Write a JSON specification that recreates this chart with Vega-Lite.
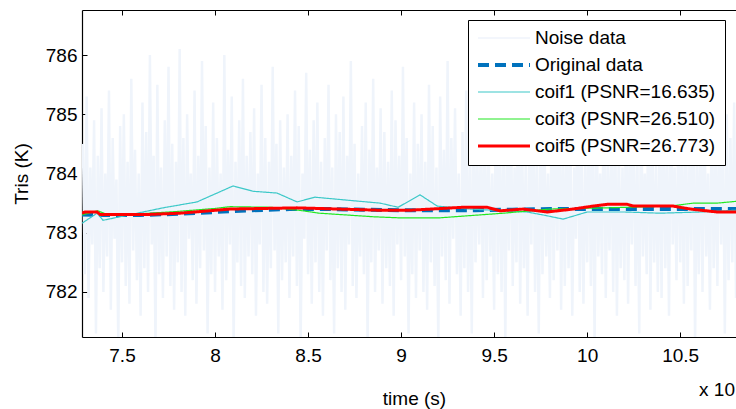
{
  "$schema": "https://vega.github.io/schema/vega-lite/v6.json",
  "width": 654,
  "height": 327,
  "autosize": "none",
  "padding": {"left": 82, "top": 10, "right": 0, "bottom": 72},
  "background": "white",
  "title": {"text": "x 10", "orient": "bottom", "anchor": "end", "frame": "group", "offset": -27, "dx": -1, "fontSize": 19, "fontWeight": "normal", "font": "Liberation Sans", "color": "black"},
  "config": {
    "font": "Liberation Sans",
    "view": {"stroke": null},
    "axis": {"domainColor": "black", "domainWidth": 1.2, "tickColor": "black", "tickWidth": 1, "tickSize": -5, "grid": false, "labelFont": "Liberation Sans", "labelFontSize": 19, "labelColor": "black", "titleFont": "Liberation Sans", "titleFontSize": 19, "titleFontWeight": "normal", "titleColor": "black"},
    "legend": {"orient": "none", "legendX": 386, "legendY": 10, "padding": 9, "clipHeight": 18, "rowPadding": 8, "labelOffset": 4, "symbolType": "stroke", "symbolSize": 2704, "strokeColor": "black", "fillColor": "white", "labelFont": "Liberation Sans", "labelFontSize": 19, "labelColor": "black", "labelLimit": 400}
  },
  "datasets": {
    "noise": [
      {"t":7.29,"v":784.5},{"t":7.30,"v":782.3},{"t":7.31,"v":785.3},{"t":7.32,"v":781.9},{"t":7.33,"v":784.1},{"t":7.34,"v":782.8},{"t":7.35,"v":784.9},{"t":7.36,"v":781.3},{"t":7.37,"v":784.3},{"t":7.38,"v":782.4},
      {"t":7.39,"v":785.1},{"t":7.40,"v":782.0},{"t":7.41,"v":784.0},{"t":7.42,"v":782.6},{"t":7.43,"v":785.4},{"t":7.44,"v":781.7},{"t":7.45,"v":784.6},{"t":7.46,"v":782.9},{"t":7.47,"v":783.9},{"t":7.48,"v":781.1},
      {"t":7.49,"v":784.8},{"t":7.50,"v":782.5},{"t":7.51,"v":785.0},{"t":7.52,"v":782.1},{"t":7.53,"v":784.2},{"t":7.54,"v":781.8},{"t":7.55,"v":785.6},{"t":7.56,"v":782.7},{"t":7.57,"v":784.4},{"t":7.58,"v":782.2},
      {"t":7.59,"v":784.0},{"t":7.60,"v":781.6},{"t":7.61,"v":785.2},{"t":7.62,"v":782.4},{"t":7.63,"v":784.7},{"t":7.64,"v":782.0},{"t":7.65,"v":786.0},{"t":7.66,"v":782.8},{"t":7.67,"v":784.3},{"t":7.68,"v":781.1},
      {"t":7.69,"v":785.5},{"t":7.70,"v":782.3},{"t":7.71,"v":784.1},{"t":7.72,"v":781.9},{"t":7.73,"v":784.9},{"t":7.74,"v":782.6},{"t":7.75,"v":785.8},{"t":7.76,"v":782.1},{"t":7.77,"v":784.5},{"t":7.78,"v":781.7},
      {"t":7.79,"v":784.2},{"t":7.80,"v":782.5},{"t":7.81,"v":786.1},{"t":7.82,"v":782.0},{"t":7.83,"v":784.6},{"t":7.84,"v":781.6},{"t":7.85,"v":785.0},{"t":7.86,"v":782.9},{"t":7.87,"v":784.0},{"t":7.88,"v":782.2},
      {"t":7.89,"v":785.4},{"t":7.90,"v":781.8},{"t":7.91,"v":784.3},{"t":7.92,"v":782.4},{"t":7.93,"v":785.9},{"t":7.94,"v":782.7},{"t":7.95,"v":784.8},{"t":7.96,"v":781.3},{"t":7.97,"v":784.1},{"t":7.98,"v":782.3},
      {"t":7.99,"v":785.2},{"t":8.00,"v":782.0},{"t":8.01,"v":784.6},{"t":8.02,"v":782.6},{"t":8.03,"v":784.0},{"t":8.04,"v":781.7},{"t":8.05,"v":786.0},{"t":8.06,"v":782.2},{"t":8.07,"v":784.4},{"t":8.08,"v":782.8},
      {"t":8.09,"v":785.3},{"t":8.10,"v":781.1},{"t":8.11,"v":784.2},{"t":8.12,"v":782.5},{"t":8.13,"v":784.9},{"t":8.14,"v":782.1},{"t":8.15,"v":785.6},{"t":8.16,"v":781.9},{"t":8.17,"v":784.3},{"t":8.18,"v":782.6},
      {"t":8.19,"v":784.7},{"t":8.20,"v":782.3},{"t":8.21,"v":785.1},{"t":8.22,"v":781.6},{"t":8.23,"v":784.0},{"t":8.24,"v":782.8},{"t":8.25,"v":785.5},{"t":8.26,"v":782.0},{"t":8.27,"v":784.6},{"t":8.28,"v":781.8},
      {"t":8.29,"v":784.2},{"t":8.30,"v":782.4},{"t":8.31,"v":785.8},{"t":8.32,"v":782.7},{"t":8.33,"v":784.5},{"t":8.34,"v":781.3},{"t":8.35,"v":784.9},{"t":8.36,"v":782.2},{"t":8.37,"v":784.1},{"t":8.38,"v":782.5},
      {"t":8.39,"v":785.0},{"t":8.40,"v":781.9},{"t":8.41,"v":784.3},{"t":8.42,"v":782.6},{"t":8.43,"v":785.4},{"t":8.44,"v":782.1},{"t":8.45,"v":784.8},{"t":8.46,"v":781.1},{"t":8.47,"v":784.0},{"t":8.48,"v":782.9},
      {"t":8.49,"v":785.7},{"t":8.50,"v":782.3},{"t":8.51,"v":784.4},{"t":8.52,"v":781.8},{"t":8.53,"v":784.9},{"t":8.54,"v":782.5},{"t":8.55,"v":785.2},{"t":8.56,"v":782.0},{"t":8.57,"v":784.2},{"t":8.58,"v":781.6},
      {"t":8.59,"v":784.6},{"t":8.60,"v":782.7},{"t":8.61,"v":785.5},{"t":8.62,"v":782.2},{"t":8.63,"v":784.1},{"t":8.64,"v":781.3},{"t":8.65,"v":785.0},{"t":8.66,"v":782.4},{"t":8.67,"v":784.7},{"t":8.68,"v":782.0},
      {"t":8.69,"v":785.3},{"t":8.70,"v":781.7},{"t":8.71,"v":784.3},{"t":8.72,"v":782.8},{"t":8.73,"v":785.9},{"t":8.74,"v":782.1},{"t":8.75,"v":784.5},{"t":8.76,"v":781.9},{"t":8.77,"v":784.0},{"t":8.78,"v":782.6},
      {"t":8.79,"v":784.8},{"t":8.80,"v":782.3},{"t":8.81,"v":785.2},{"t":8.82,"v":781.1},{"t":8.83,"v":784.4},{"t":8.84,"v":782.5},{"t":8.85,"v":785.6},{"t":8.86,"v":782.0},{"t":8.87,"v":784.1},{"t":8.88,"v":782.7},
      {"t":8.89,"v":785.1},{"t":8.90,"v":781.8},{"t":8.91,"v":784.7},{"t":8.92,"v":782.4},{"t":8.93,"v":784.2},{"t":8.94,"v":782.1},{"t":8.95,"v":785.4},{"t":8.96,"v":781.6},{"t":8.97,"v":784.9},{"t":8.98,"v":782.8},
      {"t":8.99,"v":784.3},{"t":9.00,"v":782.2},{"t":9.01,"v":785.8},{"t":9.02,"v":782.6},{"t":9.03,"v":784.6},{"t":9.04,"v":781.3},{"t":9.05,"v":784.0},{"t":9.06,"v":782.3},{"t":9.07,"v":785.2},{"t":9.08,"v":781.9},
      {"t":9.09,"v":784.5},{"t":9.10,"v":782.7},{"t":9.11,"v":785.0},{"t":9.12,"v":782.0},{"t":9.13,"v":784.2},{"t":9.14,"v":781.7},{"t":9.15,"v":785.5},{"t":9.16,"v":782.5},{"t":9.17,"v":784.8},{"t":9.18,"v":782.1},
      {"t":9.19,"v":784.1},{"t":9.20,"v":781.1},{"t":9.21,"v":785.3},{"t":9.22,"v":782.6},{"t":9.23,"v":784.4},{"t":9.24,"v":782.2},{"t":9.25,"v":785.9},{"t":9.26,"v":781.8},{"t":9.27,"v":784.6},{"t":9.28,"v":782.9},
      {"t":9.29,"v":785.1},{"t":9.30,"v":782.3},{"t":9.31,"v":784.0},{"t":9.32,"v":781.6},{"t":9.33,"v":784.7},{"t":9.34,"v":782.4},{"t":9.35,"v":785.4},{"t":9.36,"v":782.0},{"t":9.37,"v":784.3},{"t":9.38,"v":781.3},
      {"t":9.39,"v":785.6},{"t":9.40,"v":782.5},{"t":9.41,"v":784.2},{"t":9.42,"v":782.8},{"t":9.43,"v":784.9},{"t":9.44,"v":781.9},{"t":9.45,"v":785.0},{"t":9.46,"v":782.2},{"t":9.47,"v":784.5},{"t":9.48,"v":782.6},
      {"t":9.49,"v":784.0},{"t":9.50,"v":781.7},{"t":9.51,"v":785.7},{"t":9.52,"v":782.3},{"t":9.53,"v":784.4},{"t":9.54,"v":782.0},{"t":9.55,"v":785.2},{"t":9.56,"v":781.1},{"t":9.57,"v":784.8},{"t":9.58,"v":782.7},
      {"t":9.59,"v":785.3},{"t":9.60,"v":782.1},{"t":9.61,"v":784.1},{"t":9.62,"v":782.5},{"t":9.63,"v":785.8},{"t":9.64,"v":781.8},{"t":9.65,"v":784.6},{"t":9.66,"v":782.4},{"t":9.67,"v":784.2},{"t":9.68,"v":781.6},
      {"t":9.69,"v":784.9},{"t":9.70,"v":782.8},{"t":9.71,"v":785.5},{"t":9.72,"v":782.0},{"t":9.73,"v":784.3},{"t":9.74,"v":781.3},{"t":9.75,"v":785.1},{"t":9.76,"v":782.3},{"t":9.77,"v":784.7},{"t":9.78,"v":782.6},
      {"t":9.79,"v":784.0},{"t":9.80,"v":781.9},{"t":9.81,"v":785.4},{"t":9.82,"v":782.2},{"t":9.83,"v":784.8},{"t":9.84,"v":782.7},{"t":9.85,"v":785.9},{"t":9.86,"v":781.7},{"t":9.87,"v":784.4},{"t":9.88,"v":782.1},
      {"t":9.89,"v":785.2},{"t":9.90,"v":782.4},{"t":9.91,"v":784.5},{"t":9.92,"v":781.6},{"t":9.93,"v":784.1},{"t":9.94,"v":782.9},{"t":9.95,"v":785.6},{"t":9.96,"v":782.0},{"t":9.97,"v":784.6},{"t":9.98,"v":781.8},
      {"t":9.99,"v":784.3},{"t":10.00,"v":782.5},{"t":10.01,"v":785.0},{"t":10.02,"v":782.1},{"t":10.03,"v":784.9},{"t":10.04,"v":781.1},{"t":10.05,"v":785.3},{"t":10.06,"v":782.6},{"t":10.07,"v":784.0},{"t":10.08,"v":782.3},
      {"t":10.09,"v":785.7},{"t":10.10,"v":781.9},{"t":10.11,"v":784.2},{"t":10.12,"v":782.7},{"t":10.13,"v":784.8},{"t":10.14,"v":782.0},{"t":10.15,"v":785.1},{"t":10.16,"v":781.6},{"t":10.17,"v":784.5},{"t":10.18,"v":782.4},
      {"t":10.19,"v":784.1},{"t":10.20,"v":782.2},{"t":10.21,"v":785.5},{"t":10.22,"v":781.8},{"t":10.23,"v":784.6},{"t":10.24,"v":782.8},{"t":10.25,"v":785.0},{"t":10.26,"v":782.1},{"t":10.27,"v":784.3},{"t":10.28,"v":781.3},
      {"t":10.29,"v":785.4},{"t":10.30,"v":782.6},{"t":10.31,"v":784.0},{"t":10.32,"v":782.3},{"t":10.33,"v":785.8},{"t":10.34,"v":781.7},{"t":10.35,"v":784.7},{"t":10.36,"v":782.5},{"t":10.37,"v":784.2},{"t":10.38,"v":782.0},
      {"t":10.39,"v":784.9},{"t":10.40,"v":781.9},{"t":10.41,"v":785.2},{"t":10.42,"v":782.4},{"t":10.43,"v":784.4},{"t":10.44,"v":781.6},{"t":10.45,"v":785.6},{"t":10.46,"v":782.8},{"t":10.47,"v":784.1},{"t":10.48,"v":782.2},
      {"t":10.49,"v":785.0},{"t":10.50,"v":782.5},{"t":10.51,"v":784.6},{"t":10.52,"v":781.8},{"t":10.53,"v":785.3},{"t":10.54,"v":782.1},{"t":10.55,"v":784.2},{"t":10.56,"v":782.7},{"t":10.57,"v":785.7},{"t":10.58,"v":781.1},
      {"t":10.59,"v":784.5},{"t":10.60,"v":782.3},{"t":10.61,"v":784.9},{"t":10.62,"v":782.0},{"t":10.63,"v":785.1},{"t":10.64,"v":782.6},{"t":10.65,"v":784.0},{"t":10.66,"v":781.7},{"t":10.67,"v":785.4},{"t":10.68,"v":782.4},
      {"t":10.69,"v":784.3},{"t":10.70,"v":782.1},{"t":10.71,"v":785.6},{"t":10.72,"v":782.8},{"t":10.73,"v":784.7},{"t":10.74,"v":781.3},{"t":10.75,"v":785.0},{"t":10.76,"v":782.2},{"t":10.77,"v":784.6},{"t":10.78,"v":782.5},
      {"t":10.79,"v":785.2},{"t":10.80,"v":781.9}
    ],
    "smooth": [
      {"series":"Original data","t":7.285,"v":783.31},{"series":"Original data","t":7.4,"v":783.30},{"series":"Original data","t":7.6,"v":783.30},{"series":"Original data","t":7.8,"v":783.32},{"series":"Original data","t":8.0,"v":783.35},{"series":"Original data","t":8.2,"v":783.38},{"series":"Original data","t":8.4,"v":783.40},{"series":"Original data","t":8.6,"v":783.40},{"series":"Original data","t":8.8,"v":783.39},{"series":"Original data","t":9.0,"v":783.38},{"series":"Original data","t":9.2,"v":783.38},{"series":"Original data","t":9.4,"v":783.38},{"series":"Original data","t":9.6,"v":783.39},{"series":"Original data","t":9.8,"v":783.40},{"series":"Original data","t":10.0,"v":783.40},{"series":"Original data","t":10.2,"v":783.40},{"series":"Original data","t":10.4,"v":783.40},{"series":"Original data","t":10.6,"v":783.40},{"series":"Original data","t":10.8,"v":783.40},
      {"series":"coif1 (PSNR=16.635)","t":7.285,"v":783.16},{"series":"coif1 (PSNR=16.635)","t":7.366,"v":783.33},{"series":"coif1 (PSNR=16.635)","t":7.398,"v":783.21},{"series":"coif1 (PSNR=16.635)","t":7.72,"v":783.42},{"series":"coif1 (PSNR=16.635)","t":7.903,"v":783.52},{"series":"coif1 (PSNR=16.635)","t":8.097,"v":783.79},{"series":"coif1 (PSNR=16.635)","t":8.204,"v":783.70},{"series":"coif1 (PSNR=16.635)","t":8.333,"v":783.67},{"series":"coif1 (PSNR=16.635)","t":8.441,"v":783.52},{"series":"coif1 (PSNR=16.635)","t":8.537,"v":783.60},{"series":"coif1 (PSNR=16.635)","t":8.71,"v":783.55},{"series":"coif1 (PSNR=16.635)","t":8.887,"v":783.50},{"series":"coif1 (PSNR=16.635)","t":8.984,"v":783.43},{"series":"coif1 (PSNR=16.635)","t":9.102,"v":783.64},{"series":"coif1 (PSNR=16.635)","t":9.194,"v":783.45},{"series":"coif1 (PSNR=16.635)","t":9.371,"v":783.40},{"series":"coif1 (PSNR=16.635)","t":9.677,"v":783.35},{"series":"coif1 (PSNR=16.635)","t":9.763,"v":783.30},{"series":"coif1 (PSNR=16.635)","t":9.871,"v":783.23},{"series":"coif1 (PSNR=16.635)","t":10.0,"v":783.35},{"series":"coif1 (PSNR=16.635)","t":10.204,"v":783.35},{"series":"coif1 (PSNR=16.635)","t":10.392,"v":783.33},{"series":"coif1 (PSNR=16.635)","t":10.607,"v":783.35},{"series":"coif1 (PSNR=16.635)","t":10.8,"v":783.38},
      {"series":"coif3 (PSNR=26.510)","t":7.285,"v":783.30},{"series":"coif3 (PSNR=26.510)","t":7.37,"v":783.37},{"series":"coif3 (PSNR=26.510)","t":7.42,"v":783.31},{"series":"coif3 (PSNR=26.510)","t":7.6,"v":783.32},{"series":"coif3 (PSNR=26.510)","t":7.8,"v":783.36},{"series":"coif3 (PSNR=26.510)","t":8.0,"v":783.41},{"series":"coif3 (PSNR=26.510)","t":8.08,"v":783.44},{"series":"coif3 (PSNR=26.510)","t":8.3,"v":783.43},{"series":"coif3 (PSNR=26.510)","t":8.45,"v":783.38},{"series":"coif3 (PSNR=26.510)","t":8.56,"v":783.33},{"series":"coif3 (PSNR=26.510)","t":8.85,"v":783.27},{"series":"coif3 (PSNR=26.510)","t":9.0,"v":783.25},{"series":"coif3 (PSNR=26.510)","t":9.2,"v":783.25},{"series":"coif3 (PSNR=26.510)","t":9.55,"v":783.33},{"series":"coif3 (PSNR=26.510)","t":9.8,"v":783.40},{"series":"coif3 (PSNR=26.510)","t":10.1,"v":783.42},{"series":"coif3 (PSNR=26.510)","t":10.45,"v":783.45},{"series":"coif3 (PSNR=26.510)","t":10.57,"v":783.50},{"series":"coif3 (PSNR=26.510)","t":10.7,"v":783.50},{"series":"coif3 (PSNR=26.510)","t":10.8,"v":783.53},
      {"series":"coif5 (PSNR=26.773)","t":7.285,"v":783.33},{"series":"coif5 (PSNR=26.773)","t":7.30,"v":783.35},{"series":"coif5 (PSNR=26.773)","t":7.366,"v":783.35},{"series":"coif5 (PSNR=26.773)","t":7.382,"v":783.31},{"series":"coif5 (PSNR=26.773)","t":7.651,"v":783.31},{"series":"coif5 (PSNR=26.773)","t":7.812,"v":783.33},{"series":"coif5 (PSNR=26.773)","t":8.081,"v":783.40},{"series":"coif5 (PSNR=26.773)","t":8.441,"v":783.42},{"series":"coif5 (PSNR=26.773)","t":8.887,"v":783.38},{"series":"coif5 (PSNR=26.773)","t":9.048,"v":783.38},{"series":"coif5 (PSNR=26.773)","t":9.333,"v":783.43},{"series":"coif5 (PSNR=26.773)","t":9.462,"v":783.43},{"series":"coif5 (PSNR=26.773)","t":9.532,"v":783.37},{"series":"coif5 (PSNR=26.773)","t":9.656,"v":783.40},{"series":"coif5 (PSNR=26.773)","t":9.785,"v":783.35},{"series":"coif5 (PSNR=26.773)","t":9.925,"v":783.40},{"series":"coif5 (PSNR=26.773)","t":10.032,"v":783.45},{"series":"coif5 (PSNR=26.773)","t":10.108,"v":783.48},{"series":"coif5 (PSNR=26.773)","t":10.215,"v":783.48},{"series":"coif5 (PSNR=26.773)","t":10.247,"v":783.45},{"series":"coif5 (PSNR=26.773)","t":10.462,"v":783.45},{"series":"coif5 (PSNR=26.773)","t":10.554,"v":783.40},{"series":"coif5 (PSNR=26.773)","t":10.699,"v":783.35},{"series":"coif5 (PSNR=26.773)","t":10.8,"v":783.35}
    ]
  },
  "resolve": {"axis": {"x": "independent"}},
  "encoding": {
    "x": {"field": "t", "type": "quantitative", "scale": {"domain": [7.285, 10.8], "nice": false, "zero": false}, "axis": null},
    "y": {"field": "v", "type": "quantitative", "scale": {"domain": [781.24, 786.76], "nice": false, "zero": false},
          "axis": {"orient": "left", "values": [782, 783, 784, 785, 786], "format": "d", "labelPadding": 10, "title": "Tris (K)", "titlePadding": 14}},
    "color": {"field": "series", "type": "nominal",
              "scale": {"domain": ["Noise data", "Original data", "coif1 (PSNR=16.635)", "coif3 (PSNR=26.510)", "coif5 (PSNR=26.773)"], "range": ["#eff4fb", "#0072bd", "#3cc8c8", "#22e822", "#ff0000"]},
              "legend": {"title": null, "encode": {"symbols": {"update": {"strokeWidth": {"signal": "(datum.value == 'Original data' ? 4 : datum.value == 'coif5 (PSNR=26.773)' ? 3 : datum.value == 'Noise data' ? 1.5 : 1.2)"}}}}}},
    "strokeDash": {"field": "series", "type": "nominal",
              "scale": {"domain": ["Noise data", "Original data", "coif1 (PSNR=16.635)", "coif3 (PSNR=26.510)", "coif5 (PSNR=26.773)"], "range": [[1, 0], [11, 6], [1, 0], [1, 0], [1, 0]]},
              "legend": {"title": null}}
  },
  "layer": [
    {
      "data": {"name": "noise"},
      "mark": {"type": "line", "clip": true, "strokeWidth": 2.5},
      "encoding": {
        "x": {"field": "t", "type": "quantitative", "scale": {"domain": [7.285, 10.8], "nice": false, "zero": false},
              "axis": {"orient": "bottom", "values": [7.5, 8, 8.5, 9, 9.5, 10, 10.5], "format": "~g", "labelPadding": 14, "title": "time (s)", "titlePadding": 24, "titleX": 332}},
        "color": {"datum": "Noise data", "type": "nominal",
                  "scale": {"domain": ["Noise data", "Original data", "coif1 (PSNR=16.635)", "coif3 (PSNR=26.510)", "coif5 (PSNR=26.773)"], "range": ["#eff4fb", "#0072bd", "#3cc8c8", "#22e822", "#ff0000"]},
                  "legend": {"title": null, "encode": {"symbols": {"update": {"strokeWidth": {"signal": "(datum.value == 'Original data' ? 4 : datum.value == 'coif5 (PSNR=26.773)' ? 3 : datum.value == 'Noise data' ? 1.5 : 1.2)"}}}}}},
        "strokeDash": {"datum": "Noise data", "type": "nominal",
                  "scale": {"domain": ["Noise data", "Original data", "coif1 (PSNR=16.635)", "coif3 (PSNR=26.510)", "coif5 (PSNR=26.773)"], "range": [[1, 0], [11, 6], [1, 0], [1, 0], [1, 0]]},
                  "legend": {"title": null}}
      }
    },
    {
      "data": {"name": "smooth"},
      "transform": [{"filter": {"field": "series", "equal": "Original data"}}],
      "mark": {"type": "line", "clip": true, "strokeWidth": 4},
      "encoding": {
        "x": {"field": "t", "type": "quantitative", "scale": {"domain": [7.285, 10.8], "nice": false, "zero": false},
              "axis": {"orient": "top", "values": [7.5, 8, 8.5, 9, 9.5, 10, 10.5], "labels": false, "title": null}}
      }
    },
    {
      "data": {"name": "smooth"},
      "transform": [{"filter": {"field": "series", "equal": "coif1 (PSNR=16.635)"}}],
      "mark": {"type": "line", "clip": true, "strokeWidth": 1.2}
    },
    {
      "data": {"name": "smooth"},
      "transform": [{"filter": {"field": "series", "equal": "coif3 (PSNR=26.510)"}}],
      "mark": {"type": "line", "clip": true, "strokeWidth": 1.2}
    },
    {
      "data": {"name": "smooth"},
      "transform": [{"filter": {"field": "series", "equal": "coif5 (PSNR=26.773)"}}],
      "mark": {"type": "line", "clip": true, "strokeWidth": 3}
    }
  ]
}
